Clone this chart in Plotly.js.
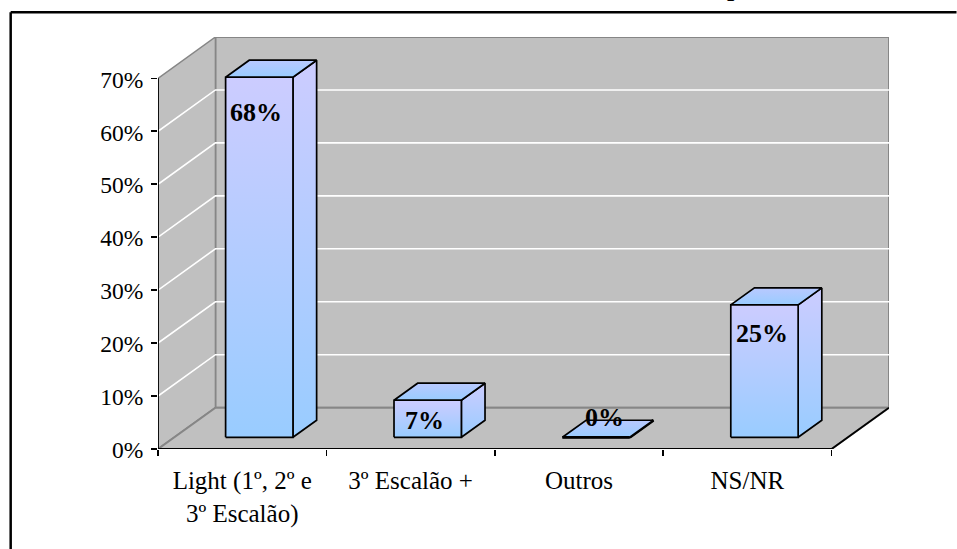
<!DOCTYPE html>
<html>
<head>
<meta charset="utf-8">
<script src="https://cdn.plot.ly/plotly-3.0.1.min.js"></script>
<style>
html,body{margin:0;padding:0;background:#fff;overflow:hidden}
#chart{width:957px;height:549px}
</style>
</head>
<body>
<div id="chart"></div>
<script>
// Bar values in percent and their category labels
const categories = ['Light (1º, 2º e<br>3º Escalão)', '3º Escalão +', 'Outros', 'NS/NR'];
const values = [68, 7, 0, 25];
const valueTicks = [0, 10, 20, 30, 40, 50, 60, 70];
const valueTickText = ['0%', '10%', '20%', '30%', '40%', '50%', '60%', '70%'];

// Oblique projection: how far one unit of depth moves a point, in axis units
const DEPTH_X = 0.341;
const DEPTH_Y = 7.81;
const BAR_WIDTH = 0.4;
const BAR_NEAR = 0.283;
const BAR_FAR = 0.695;
const BAR_SHIFT = 0.005;

const xMax = categories.length + DEPTH_X;
const yMax = 70 + DEPTH_Y;
const project = (c, v, d) => [c + d * DEPTH_X, v + d * DEPTH_Y];

const traces = [];

// Adds a closed or open path given as [category, value, depth] points
function path(points, opts) {
  const xy = points.map(p => project(p[0], p[1], p[2]));
  traces.push(Object.assign({
    type: 'scatter', mode: 'lines',
    x: xy.map(p => p[0]), y: xy.map(p => p[1]),
    hoverinfo: 'skip', showlegend: false, cliponaxis: false
  }, opts));
}

const WALL = '#c0c0c0';
const EDGE = '#868686';
const edgeLine = {color: EDGE, width: 2};
const n = categories.length;

// Back wall, side wall and floor
path([[0,0,1],[n,0,1],[n,70,1],[0,70,1],[0,0,1]],
  {fill: 'toself', fillcolor: WALL, line: edgeLine});
path([[0,0,0],[0,0,1],[0,70,1],[0,70,0],[0,0,0]],
  {fill: 'toself', fillcolor: WALL, line: {color: EDGE, width: 1.5}});
path([[0,0,0],[n,0,0],[n,0,1],[0,0,1],[0,0,0]],
  {fill: 'toself', fillcolor: WALL, line: edgeLine});

// White gridlines run along the side wall and across the back wall
valueTicks.filter(v => v > 0 && v < 70).forEach(v => {
  path([[0,v,0],[0,v,1],[n,v,1]], {line: {color: '#ffffff', width: 1.6}});
});

// Front edges of the floor and the value axis line
path([[n,0,1],[n,0,0],[0,0,0],[0,70,0]], {line: {color: '#000000', width: 1.8}});

const LILAC = '#ccccff';
const SKY = '#99ccff';
const barScale = [[0, SKY], [1, LILAC]];

// Each bar is drawn as three faces from its value; a flat bar gets a heavier outline
values.forEach((v, i) => {
  const l = i + 0.5 + BAR_SHIFT - BAR_WIDTH / 2;
  const r = l + BAR_WIDTH;
  const barLine = {color: '#000000', width: v === 0 ? 2.8 : 1.7};
  path([[r,0,BAR_NEAR],[r,0,BAR_FAR],[r,v,BAR_FAR],[r,v,BAR_NEAR],[r,0,BAR_NEAR]],
    {fill: 'toself', fillgradient: {type: 'vertical', colorscale: barScale}, line: barLine});
  path([[l,v,BAR_NEAR],[r,v,BAR_NEAR],[r,v,BAR_FAR],[l,v,BAR_FAR],[l,v,BAR_NEAR]],
    {fill: 'toself', fillgradient: {type: 'vertical', colorscale: [[0, SKY], [1, '#b9c9ff']]},
     line: {color: '#000000', width: 1.7}});
  path([[l,0,BAR_NEAR],[r,0,BAR_NEAR],[r,v,BAR_NEAR],[l,v,BAR_NEAR],[l,0,BAR_NEAR]],
    {fill: 'toself', fillgradient: {type: 'vertical', colorscale: barScale}, line: barLine});
});

// Keeps the category label axis alive alongside the tick mark axis
traces.push({type: 'scatter', mode: 'none', x: [0], y: [0], xaxis: 'x2', hoverinfo: 'skip', showlegend: false});

const SERIF = '"Liberation Serif", "Times New Roman", serif';

// Nudges that place each value label on its bar
const labelShiftX = [-3, -3.5, 8, -2.5];
const labelShiftY = [35, 20, -19.5, 28.6];

const annotations = values.map((v, i) => {
  const pos = project(i + 0.5 + BAR_SHIFT, v, BAR_NEAR);
  return {
    x: pos[0], y: pos[1], xref: 'x', yref: 'y',
    text: '<b>' + v + '%</b>', showarrow: false,
    xshift: labelShiftX[i], yshift: -labelShiftY[i],
    font: {family: SERIF, size: 26, color: '#000000'}
  };
});

// Descender of the heading that runs off the top of the page
annotations.push({
  xref: 'paper', yref: 'paper', x: (743 - 157.5) / 731.9, y: 1 + (36.7 + 13) / 412.3,
  text: '<b>p</b>', showarrow: false, yanchor: 'middle',
  font: {family: SERIF, size: 26, color: '#000000'}
});

// Heavy frame on the top and left of the page
const px = x => (x - 157.5) / 731.9;
const py = y => (449 - y) / 412.3;
const frame = {color: '#000000', width: 2.5};
const shapes = [
  {type: 'line', xref: 'paper', yref: 'paper', x0: px(10), x1: px(957), y0: py(12), y1: py(12), line: frame},
  {type: 'line', xref: 'paper', yref: 'paper', x0: px(10), x1: px(10), y0: py(12), y1: py(549), line: frame}
];

const layout = {
  width: 957, height: 549, autosize: false,
  margin: {l: 157.5, r: 67.6, t: 36.7, b: 100, pad: 0},
  paper_bgcolor: '#ffffff', plot_bgcolor: 'rgba(0,0,0,0)',
  showlegend: false, annotations: annotations, shapes: shapes,
  xaxis: {
    range: [0, xMax], showgrid: false, zeroline: false, showline: false,
    tickmode: 'array', tickvals: categories.map((c, i) => i).concat([n]),
    ticktext: categories.map(() => '').concat(['']),
    ticks: 'outside', ticklen: 6, tickwidth: 1.7, tickcolor: '#000000', fixedrange: true
  },
  xaxis2: {
    range: [0, xMax], overlaying: 'x', side: 'bottom', anchor: 'y',
    showgrid: false, zeroline: false, showline: false,
    tickmode: 'array', tickvals: categories.map((c, i) => i + 0.5), ticktext: categories,
    ticks: 'outside', ticklen: 9, tickcolor: 'rgba(0,0,0,0)',
    tickfont: {family: SERIF, size: 25, color: '#000000'}, fixedrange: true
  },
  yaxis: {
    range: [0, yMax], showgrid: false, zeroline: false, showline: false,
    tickmode: 'array', tickvals: valueTicks, ticktext: valueTickText,
    ticks: 'outside', ticklen: 6, tickwidth: 1.7, tickcolor: '#000000',
    ticklabelstandoff: 3, ticklabelshift: 1,
    tickfont: {family: SERIF, size: 23.5, color: '#000000'}, fixedrange: true
  }
};

Plotly.newPlot('chart', traces, layout, {displayModeBar: false, staticPlot: true});
</script>
</body>
</html>
